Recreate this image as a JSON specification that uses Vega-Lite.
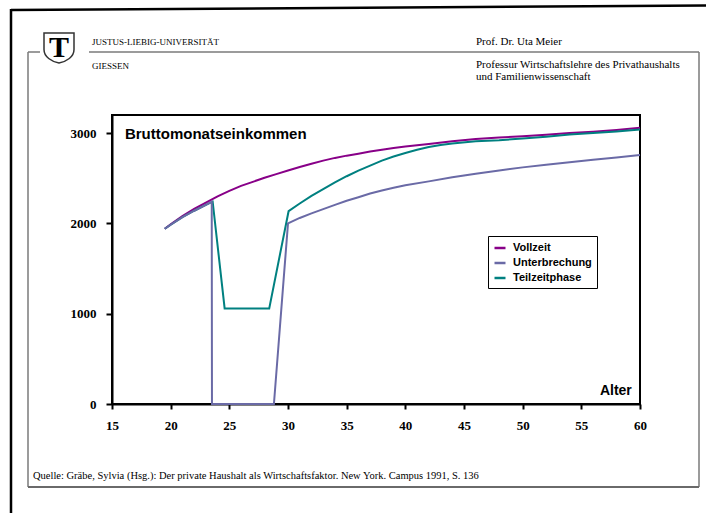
{
  "$schema": "https://vega.github.io/schema/vega-lite/v6.json",
  "autosize": {"type": "none"},
  "width": 528,
  "height": 289,
  "padding": {"left": 112, "top": 115, "right": 66, "bottom": 109},
  "background": "white",
  "config": {"view": {"stroke": "black", "strokeWidth": 2}, "font": "Liberation Sans"},
  "datasets": {
    "series": [
      {"s": "Vollzeit", "a": 19.5, "v": 1940}, {"s": "Vollzeit", "a": 20, "v": 1990}, {"s": "Vollzeit", "a": 21, "v": 2080}, {"s": "Vollzeit", "a": 22, "v": 2160}, {"s": "Vollzeit", "a": 23, "v": 2230}, {"s": "Vollzeit", "a": 24, "v": 2300}, {"s": "Vollzeit", "a": 25, "v": 2360}, {"s": "Vollzeit", "a": 26, "v": 2415}, {"s": "Vollzeit", "a": 27, "v": 2460}, {"s": "Vollzeit", "a": 28, "v": 2505}, {"s": "Vollzeit", "a": 29, "v": 2545}, {"s": "Vollzeit", "a": 30, "v": 2585}, {"s": "Vollzeit", "a": 31, "v": 2625}, {"s": "Vollzeit", "a": 32, "v": 2660}, {"s": "Vollzeit", "a": 33, "v": 2695}, {"s": "Vollzeit", "a": 34, "v": 2725}, {"s": "Vollzeit", "a": 35, "v": 2750}, {"s": "Vollzeit", "a": 36, "v": 2772}, {"s": "Vollzeit", "a": 37, "v": 2795}, {"s": "Vollzeit", "a": 38, "v": 2815}, {"s": "Vollzeit", "a": 39, "v": 2835}, {"s": "Vollzeit", "a": 40, "v": 2852}, {"s": "Vollzeit", "a": 42, "v": 2880}, {"s": "Vollzeit", "a": 44, "v": 2910}, {"s": "Vollzeit", "a": 46, "v": 2935}, {"s": "Vollzeit", "a": 48, "v": 2950}, {"s": "Vollzeit", "a": 50, "v": 2965}, {"s": "Vollzeit", "a": 52, "v": 2980}, {"s": "Vollzeit", "a": 54, "v": 3000}, {"s": "Vollzeit", "a": 56, "v": 3015}, {"s": "Vollzeit", "a": 58, "v": 3035}, {"s": "Vollzeit", "a": 60, "v": 3060},
      {"s": "Teilzeitphase", "a": 19.5, "v": 1940}, {"s": "Teilzeitphase", "a": 20, "v": 1985}, {"s": "Teilzeitphase", "a": 21, "v": 2070}, {"s": "Teilzeitphase", "a": 22, "v": 2140}, {"s": "Teilzeitphase", "a": 23, "v": 2205}, {"s": "Teilzeitphase", "a": 23.58, "v": 2240}, {"s": "Teilzeitphase", "a": 24.6, "v": 1058}, {"s": "Teilzeitphase", "a": 28.4, "v": 1058}, {"s": "Teilzeitphase", "a": 30.05, "v": 2135}, {"s": "Teilzeitphase", "a": 31, "v": 2220}, {"s": "Teilzeitphase", "a": 32, "v": 2305}, {"s": "Teilzeitphase", "a": 33, "v": 2380}, {"s": "Teilzeitphase", "a": 34, "v": 2455}, {"s": "Teilzeitphase", "a": 35, "v": 2522}, {"s": "Teilzeitphase", "a": 36, "v": 2585}, {"s": "Teilzeitphase", "a": 37, "v": 2640}, {"s": "Teilzeitphase", "a": 38, "v": 2695}, {"s": "Teilzeitphase", "a": 39, "v": 2740}, {"s": "Teilzeitphase", "a": 40, "v": 2780}, {"s": "Teilzeitphase", "a": 41, "v": 2815}, {"s": "Teilzeitphase", "a": 42, "v": 2845}, {"s": "Teilzeitphase", "a": 43, "v": 2868}, {"s": "Teilzeitphase", "a": 44, "v": 2885}, {"s": "Teilzeitphase", "a": 46, "v": 2908}, {"s": "Teilzeitphase", "a": 48, "v": 2920}, {"s": "Teilzeitphase", "a": 50, "v": 2940}, {"s": "Teilzeitphase", "a": 52, "v": 2960}, {"s": "Teilzeitphase", "a": 54, "v": 2985}, {"s": "Teilzeitphase", "a": 56, "v": 3000}, {"s": "Teilzeitphase", "a": 58, "v": 3018}, {"s": "Teilzeitphase", "a": 60, "v": 3040},
      {"s": "Unterbrechung", "a": 19.5, "v": 1940}, {"s": "Unterbrechung", "a": 20, "v": 1985}, {"s": "Unterbrechung", "a": 21, "v": 2070}, {"s": "Unterbrechung", "a": 22, "v": 2140}, {"s": "Unterbrechung", "a": 23, "v": 2205}, {"s": "Unterbrechung", "a": 23.5, "v": 2240}, {"s": "Unterbrechung", "a": 23.52, "v": 0}, {"s": "Unterbrechung", "a": 28.8, "v": 0}, {"s": "Unterbrechung", "a": 30, "v": 2000}, {"s": "Unterbrechung", "a": 31, "v": 2060}, {"s": "Unterbrechung", "a": 32, "v": 2110}, {"s": "Unterbrechung", "a": 33, "v": 2158}, {"s": "Unterbrechung", "a": 34, "v": 2205}, {"s": "Unterbrechung", "a": 35, "v": 2250}, {"s": "Unterbrechung", "a": 36, "v": 2290}, {"s": "Unterbrechung", "a": 37, "v": 2330}, {"s": "Unterbrechung", "a": 38, "v": 2365}, {"s": "Unterbrechung", "a": 39, "v": 2395}, {"s": "Unterbrechung", "a": 40, "v": 2422}, {"s": "Unterbrechung", "a": 42, "v": 2465}, {"s": "Unterbrechung", "a": 44, "v": 2510}, {"s": "Unterbrechung", "a": 46, "v": 2550}, {"s": "Unterbrechung", "a": 48, "v": 2585}, {"s": "Unterbrechung", "a": 50, "v": 2620}, {"s": "Unterbrechung", "a": 52, "v": 2650}, {"s": "Unterbrechung", "a": 54, "v": 2678}, {"s": "Unterbrechung", "a": 56, "v": 2705}, {"s": "Unterbrechung", "a": 58, "v": 2730}, {"s": "Unterbrechung", "a": 60, "v": 2758}
    ]
  },
  "layer": [
    {
      "data": {"values": [{}]},
      "mark": {"type": "rule", "stroke": "black", "strokeWidth": 2.5},
      "encoding": {"x": {"value": -101}, "x2": {"value": 594}, "y": {"value": -105}, "y2": {"value": -109.5}}
    },
    {
      "data": {"values": [{}]},
      "mark": {"type": "rule", "stroke": "black", "strokeWidth": 2.5},
      "encoding": {"x": {"value": -101}, "x2": {"value": -101}, "y": {"value": -106}, "y2": {"value": 400}}
    },
    {
      "data": {"values": [{}]},
      "mark": {"type": "rule", "stroke": "#7a7a7a", "strokeWidth": 1.5},
      "encoding": {"x": {"value": -84}, "x2": {"value": -72}, "y": {"value": -63}, "y2": {"value": -63}}
    },
    {
      "data": {"values": [{}]},
      "mark": {"type": "rule", "stroke": "#7a7a7a", "strokeWidth": 1.5},
      "encoding": {"x": {"value": -23}, "x2": {"value": 587}, "y": {"value": -63}, "y2": {"value": -63}}
    },
    {
      "data": {"values": [{}]},
      "mark": {"type": "rule", "stroke": "#7a7a7a", "strokeWidth": 1.5},
      "encoding": {"x": {"value": -84}, "x2": {"value": -84}, "y": {"value": -63}, "y2": {"value": 372}}
    },
    {
      "data": {"values": [{}]},
      "mark": {"type": "rule", "stroke": "#7a7a7a", "strokeWidth": 1.5},
      "encoding": {"x": {"value": 587}, "x2": {"value": 587}, "y": {"value": -63}, "y2": {"value": 372}}
    },
    {
      "data": {"values": [{}]},
      "mark": {"type": "rule", "stroke": "#6a6a6a", "strokeWidth": 2},
      "encoding": {"x": {"value": -84}, "x2": {"value": 587}, "y": {"value": 372}, "y2": {"value": 372}}
    },
    {
      "data": {"values": [{}]},
      "mark": {"type": "point", "shape": "M-1,-1L1,-1L1,0.1C1,0.6,0.5,0.9,0,1C-0.5,0.9,-1,0.6,-1,0.1Z", "size": 900, "filled": true, "fill": "white", "stroke": "#333333", "strokeWidth": 1.5, "opacity": 1},
      "encoding": {"x": {"value": -53}, "y": {"value": -67}}
    },
    {
      "data": {"values": [{"t": "T"}]},
      "mark": {"type": "text", "font": "Liberation Serif", "fontWeight": "bold", "fontSize": 30, "align": "center", "baseline": "middle", "color": "black"},
      "encoding": {"x": {"value": -53}, "y": {"value": -67}, "text": {"field": "t"}}
    },
    {
      "data": {"values": [{"t": "JUSTUS-LIEBIG-UNIVERSITÄT"}]},
      "mark": {"type": "text", "font": "Liberation Serif", "fontSize": 9, "align": "left", "baseline": "alphabetic", "color": "black"},
      "encoding": {"x": {"value": -20}, "y": {"value": -70.5}, "text": {"field": "t"}}
    },
    {
      "data": {"values": [{"t": "GIESSEN"}]},
      "mark": {"type": "text", "font": "Liberation Serif", "fontSize": 9, "align": "left", "baseline": "alphabetic", "color": "black"},
      "encoding": {"x": {"value": -20}, "y": {"value": -46.5}, "text": {"field": "t"}}
    },
    {
      "data": {"values": [{"t": "Prof. Dr. Uta Meier"}]},
      "mark": {"type": "text", "font": "Liberation Serif", "fontSize": 11, "align": "left", "baseline": "alphabetic", "color": "black"},
      "encoding": {"x": {"value": 364}, "y": {"value": -70.5}, "text": {"field": "t"}}
    },
    {
      "data": {"values": [{"t": "Professur Wirtschaftslehre des Privathaushalts"}]},
      "mark": {"type": "text", "font": "Liberation Serif", "fontSize": 11, "align": "left", "baseline": "alphabetic", "color": "black"},
      "encoding": {"x": {"value": 364}, "y": {"value": -47}, "text": {"field": "t"}}
    },
    {
      "data": {"values": [{"t": "und Familienwissenschaft"}]},
      "mark": {"type": "text", "font": "Liberation Serif", "fontSize": 11, "align": "left", "baseline": "alphabetic", "color": "black"},
      "encoding": {"x": {"value": 364}, "y": {"value": -35}, "text": {"field": "t"}}
    },
    {
      "data": {"values": [{"t": "Quelle: Gräbe, Sylvia (Hsg.): Der private Haushalt als Wirtschaftsfaktor. New York. Campus 1991, S. 136"}]},
      "mark": {"type": "text", "font": "Liberation Serif", "fontSize": 10.5, "align": "left", "baseline": "alphabetic", "color": "black"},
      "encoding": {"x": {"value": -79}, "y": {"value": 363.5}, "text": {"field": "t"}}
    },
    {
      "data": {"name": "series"},
      "mark": {"type": "line", "strokeWidth": 2, "clip": false},
      "encoding": {
        "x": {"field": "a", "type": "quantitative", "scale": {"domain": [15, 60], "nice": false, "zero": false},
          "axis": {"values": [15, 20, 25, 30, 35, 40, 45, 50, 55, 60], "format": "d", "title": null, "grid": false, "domainColor": "black", "domainWidth": 2, "tickColor": "black", "tickWidth": 2, "tickSize": 5, "labelFont": "Liberation Serif", "labelFontWeight": "bold", "labelFontSize": 13, "labelColor": "black", "labelPadding": 10, "labelFlush": false}},
        "y": {"field": "v", "type": "quantitative", "scale": {"domain": [0, 3200], "nice": false},
          "axis": {"values": [0, 1000, 2000, 3000], "format": "d", "title": null, "grid": false, "domainColor": "black", "domainWidth": 2, "tickColor": "black", "tickWidth": 2, "tickSize": 6, "labelFont": "Liberation Serif", "labelFontWeight": "bold", "labelFontSize": 13, "labelColor": "black", "labelPadding": 10, "labelFlush": false}},
        "color": {"field": "s", "type": "nominal",
          "scale": {"domain": ["Vollzeit", "Unterbrechung", "Teilzeitphase"], "range": ["#880088", "#6a6aa6", "#008080"]},
          "legend": {"title": null, "orient": "none", "legendX": 376, "legendY": 121, "strokeColor": "black", "fillColor": "white", "padding": 5, "symbolType": "stroke", "symbolSize": 121, "symbolStrokeWidth": 2.5, "labelFont": "Liberation Sans", "labelFontWeight": "bold", "labelFontSize": 11, "labelColor": "black", "rowPadding": 3, "labelOffset": 6, "cornerRadius": 0}}
      }
    },
    {
      "data": {"values": [{"t": "Bruttomonatseinkommen"}]},
      "mark": {"type": "text", "font": "Liberation Sans", "fontWeight": "bold", "fontSize": 15, "align": "left", "baseline": "alphabetic", "color": "black"},
      "encoding": {"x": {"datum": 16.1, "type": "quantitative"}, "y": {"datum": 2935, "type": "quantitative"}, "text": {"field": "t"}}
    },
    {
      "data": {"values": [{"t": "Alter"}]},
      "mark": {"type": "text", "font": "Liberation Sans", "fontWeight": "bold", "fontSize": 14, "align": "right", "baseline": "alphabetic", "color": "black"},
      "encoding": {"x": {"datum": 59.3, "type": "quantitative"}, "y": {"datum": 100, "type": "quantitative"}, "text": {"field": "t"}}
    }
  ]
}
